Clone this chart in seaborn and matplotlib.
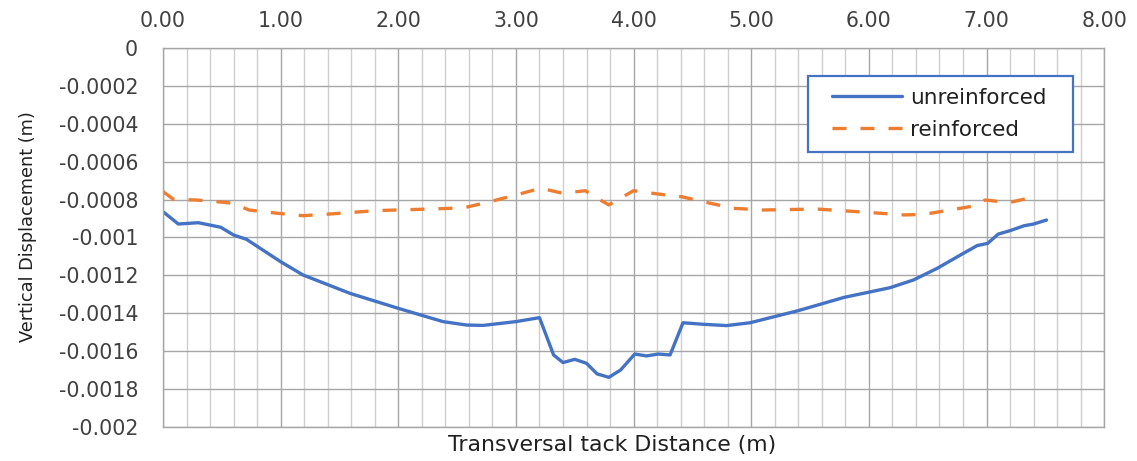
import matplotlib
matplotlib.use("Agg")
import matplotlib.pyplot as plt
from matplotlib.patches import Rectangle
from matplotlib.ticker import MultipleLocator, FuncFormatter
import seaborn as sns

# distances (m) and vertical displacement (m)
x_unreinf = [0.00, 0.13, 0.30, 0.49, 0.60, 0.71, 1.00, 1.19, 1.59, 2.00, 2.38, 2.58,
             2.72, 3.00, 3.20, 3.32, 3.40, 3.50, 3.60, 3.69, 3.79, 3.89, 4.01, 4.11,
             4.21, 4.31, 4.42, 4.59, 4.79, 4.99, 5.40, 5.79, 6.18, 6.38, 6.58, 6.78,
             6.92, 7.01, 7.10, 7.20, 7.32, 7.40, 7.51]
y_unreinf = [-0.000864, -0.000929, -0.000922, -0.000946, -0.000987, -0.00101, -0.001128,
             -0.001198, -0.001295, -0.001374, -0.001444, -0.001462, -0.001464, -0.001444,
             -0.001423, -0.00162, -0.00166, -0.001643, -0.001664, -0.00172, -0.001738,
             -0.001699, -0.001615, -0.001625, -0.001615, -0.00162, -0.00145, -0.001458,
             -0.001465, -0.00145, -0.001386, -0.001316, -0.001265, -0.001224, -0.001163,
             -0.001092, -0.001043, -0.001031, -0.000982, -0.000964, -0.000938, -0.000929,
             -0.000908]

x_reinf = [0.00, 0.09, 0.28, 0.51, 0.60, 0.73, 0.97, 1.19, 1.42, 1.82, 2.21, 2.55, 2.72,
           3.00, 3.21, 3.40, 3.59, 3.69, 3.79, 4.00, 4.20, 4.41, 4.59, 4.85, 5.10, 5.56,
           5.98, 6.30, 6.47, 6.69, 6.89, 6.99, 7.19, 7.41]
y_reinf = [-0.000758, -0.000799, -0.000802, -0.000814, -0.00082, -0.000855, -0.000872,
           -0.000885, -0.000876, -0.000858, -0.000851, -0.000844, -0.00082, -0.000776,
           -0.00074, -0.000767, -0.000753, -0.000793, -0.000828, -0.000753, -0.00077,
           -0.000785, -0.000811, -0.000846, -0.000855, -0.00085, -0.000867, -0.000881,
           -0.000878, -0.000855, -0.000834, -0.000802, -0.000816, -0.000785]

sns.set_style("white")
plt.rcParams["font.family"] = ["DejaVu Sans"]

fig = plt.figure(figsize=(11.37, 4.61), dpi=100)
ax = fig.add_axes([0.1434, 0.0738, 0.8277, 0.8221])

sns.lineplot(x=x_unreinf, y=y_unreinf, ax=ax, color="#4472C4", linewidth=2.4,
             estimator=None, label="unreinforced")
sns.lineplot(x=x_reinf, y=y_reinf, ax=ax, color="#ED7D31", linewidth=2.4,
             estimator=None, linestyle=(0, (4.2, 4.2)), label="reinforced")

ax.set_xlim(0, 8)
ax.set_ylim(-0.002, 0)

# x ticks along the top, grid every 0.2
ax.xaxis.tick_top()
ax.xaxis.set_major_locator(MultipleLocator(1))
ax.xaxis.set_minor_locator(MultipleLocator(0.2))
ax.xaxis.set_major_formatter(FuncFormatter(lambda v, p: f"{v:.2f}"))
ax.yaxis.set_major_locator(MultipleLocator(0.0002))
ax.yaxis.set_major_formatter(FuncFormatter(lambda v, p: "0" if abs(v) < 1e-12 else f"{v:g}"))

ax.grid(which="major", axis="both", color="#a6a6a6", linewidth=1)
ax.grid(which="minor", axis="x", color="#cfcfcf", linewidth=1)
ax.tick_params(axis="x", which="both", length=0, pad=12, labelsize=14.8, colors="#404040")
ax.tick_params(axis="y", which="major", length=7, width=1, color="#a6a6a6",
               pad=11, labelsize=14.8, labelcolor="#404040")
for s in ax.spines.values():
    s.set_color("#a6a6a6")
    s.set_linewidth(1)

ax.set_xlabel("Transversal tack Distance (m)", fontsize=15.8, color="#202020", labelpad=6)
ax.xaxis.set_label_position("bottom")
ax.xaxis.label.set_x(0.477)
ax.set_ylabel("Vertical Displacement (m)", fontsize=12.8, color="#202020")
ax.yaxis.set_label_coords(-0.134, 0.529)

# legend box drawn as its own frame
ax.add_patch(Rectangle((0.6854, 0.7256), 0.2816, 0.2005, transform=ax.transAxes,
                       facecolor="white", edgecolor="#4472C4", linewidth=1.6, zorder=4.5))
leg = ax.legend(loc="center left", bbox_to_anchor=(0.711, 0.827), borderaxespad=0,
                borderpad=0, fontsize=15.5, handlelength=3.25, handletextpad=0.37,
                labelspacing=0.56, frameon=False)
for t in leg.get_texts():
    t.set_color("#202020")

fig.savefig("out.png", dpi=100)
